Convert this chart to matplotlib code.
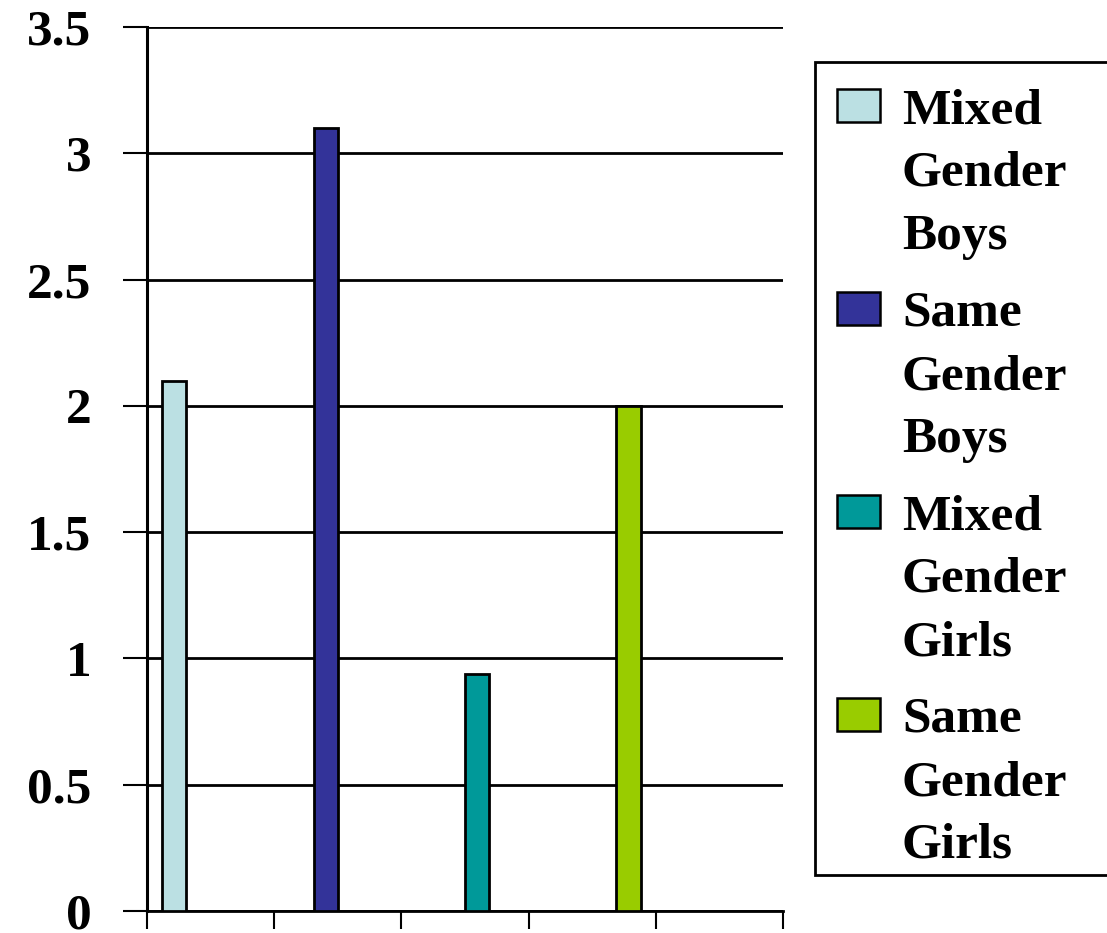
import matplotlib
matplotlib.use("Agg")
import matplotlib.pyplot as plt
from matplotlib.patches import Rectangle

# --- data ---
series_labels = [
    ["Mixed", "Gender", "Boys"],
    ["Same", "Gender", "Boys"],
    ["Mixed", "Gender", "Girls"],
    ["Same", "Gender", "Girls"],
]
series_values = [2.1, 3.1, 0.94, 2.0]
series_colors = ["#BBE0E3", "#333399", "#009999", "#99CC00"]
n_categories = 5
y_ticks = [0, 0.5, 1, 1.5, 2, 2.5, 3, 3.5]
y_tick_labels = ["0", "0.5", "1", "1.5", "2", "2.5", "3", "3.5"]

FONT = "Liberation Serif"
FS = 37

W, H = 1107, 933
fig = plt.figure(figsize=(W / 100, H / 100), dpi=100, facecolor="white")
ax = fig.add_axes([147 / W, 1 - 911 / H, (783 - 147) / W, (911 - 27) / H])

# clustered layout: series i sits in category i at its slot within the group
bar_w = 0.19
n_series = len(series_values)
for i, (val, col) in enumerate(zip(series_values, series_colors)):
    x = i + 0.5 + (i - (n_series - 1) / 2) * bar_w
    ax.bar(x, val, width=bar_w, color=col, edgecolor="black", linewidth=2, zorder=3)

ax.set_xlim(0, n_categories)
ax.set_ylim(0, 3.5)
ax.set_xticks(range(n_categories + 1))
ax.set_xticklabels([])
ax.set_yticks(y_ticks)
ax.set_yticklabels(y_tick_labels, fontfamily=FONT, fontweight="bold", fontsize=FS)

ax.yaxis.grid(True, color="black", linewidth=2)
ax.set_axisbelow(True)
ax.tick_params(axis="y", direction="out", length=17, width=1.5, pad=23)
ax.tick_params(axis="x", direction="out", length=13, width=1.5)
for s in ["top", "right"]:
    ax.spines[s].set_visible(False)
ax.spines["left"].set_linewidth(2.2)
ax.spines["bottom"].set_linewidth(2)

# --- legend box, drawn in pixel units ---
def px(x, y):
    return x / W, 1 - y / H

fx, fy = px(815, 875)
fig.patches.append(Rectangle((fx, fy), (1130 - 815) / W, (875 - 62) / H,
                             transform=fig.transFigure, facecolor="white",
                             edgecolor="black", linewidth=2))

entry_step = 203
line_step = 63
for i, (lines, col) in enumerate(zip(series_labels, series_colors)):
    top = 89 + i * entry_step
    hx, hy = px(837, top + 33)
    fig.patches.append(Rectangle((hx, hy), 43 / W, 33 / H,
                                 transform=fig.transFigure, facecolor=col,
                                 edgecolor="black", linewidth=1.8))
    for k, word in enumerate(lines):
        tx, ty = px(902, top + 34 + k * line_step)
        fig.text(tx, ty, word, fontfamily=FONT, fontweight="bold",
                 fontsize=FS, va="baseline", ha="left")

fig.savefig("out.png", dpi=100, facecolor="white")
